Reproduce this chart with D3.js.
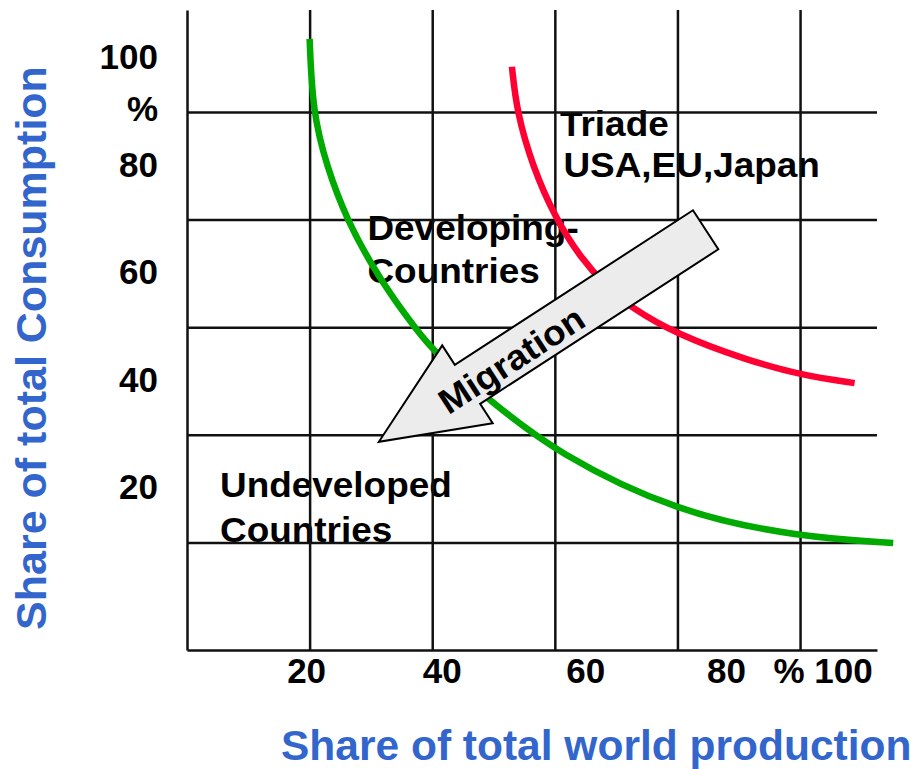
<!DOCTYPE html>
<html>
<head>
<meta charset="utf-8">
<script src="https://cdn.jsdelivr.net/npm/d3@7"></script>
<style>
  html, body { margin: 0; padding: 0; background: #fff; }
  svg { display: block; }
  text { font-family: "Liberation Sans", Arial, sans-serif; font-weight: bold; }
</style>
</head>
<body>
<div id="chart"></div>
<script>
// ── Data (percent shares) ───────────────────────────────────
const X_TICKS       = [20, 40, 60, 80, 100];
const X_TICK_LABELS = ["20", "40", "60", "80", "% 100"];
const Y_TICKS       = [20, 40, 60, 80, 100];
const Y_TICK_LABELS = ["20", "40", "60", "80", "100"];

// developing countries curve (green)
const GREEN_X = [20.0, 20.5, 22.8, 26.1, 30.3, 33.8, 37.2, 40.6, 49.9, 60.3, 80.0, 99.9, 115.2];
const GREEN_Y = [113.6, 100.0, 89.8, 79.9, 71.2, 65.1, 59.9, 55.0, 45.9, 36.6, 25.5, 21.0, 19.9];

// triade curve (red)
const RED_X = [53.0, 53.8, 56.4, 60.0, 64.1, 68.5, 72.2, 80.0, 91.3, 100.1, 108.9];
const RED_Y = [108.4, 100.0, 89.8, 80.5, 73.0, 67.5, 63.8, 58.6, 53.9, 51.1, 49.6];

// migration arrow: tail -> tip
const ARROW_FROM = [84.6, 78.1];
const ARROW_TO   = [31.3, 38.7];

const TITLE_X = "Share of total world production";
const TITLE_Y = "Share of total Consumption";

// ── Layout ───────────────────────────────────────────────────
const W = 914, H = 769;
const BLUE = "#3366cc";
const X_LABEL_DX = [-3, 10, 31, 49, 23];
const STRETCH = 1.055;   // reference text is slightly wide

const svg = d3.select("#chart").append("svg")
  .attr("width", W).attr("height", H);

const x = d3.scaleLinear().domain([0, 112.55]).range([187, 877]);
const y = d3.scaleLinear().domain([0, 118.95]).range([650, 10]);

// annotation texts (anchored in data units)
const NOTES = [
  { lines: ["Triade", "USA,EU,Japan"], at: [[60.84, 95.6], [61.4, 88.0]] },
  { lines: ["Developing-", "Countries"], at: [[29.43, 76.2], [29.43, 68.2]] },
  { lines: ["Undeveloped", "Countries"], at: [[5.38, 28.4], [5.38, 20.1]] }
];

NOTES.forEach(n => {
  n.lines.forEach((t, i) => {
    svg.append("text")
      .attr("transform", `translate(${x(n.at[i][0])},${y(n.at[i][1])}) scale(${STRETCH},1)`)
      .attr("font-size", 35).attr("fill", "#000")
      .text(t);
  });
});

// ── Grid / axes ──────────────────────────────────────────────
const gx = svg.append("g").attr("transform", `translate(0,${y(0)})`)
  .call(d3.axisBottom(x).tickValues(X_TICKS).tickFormat("")
    .tickSize(-(y(0) - y(118.95))).tickSizeOuter(0));
const gy = svg.append("g").attr("transform", `translate(${x(0)},0)`)
  .call(d3.axisLeft(y).tickValues(Y_TICKS).tickFormat("")
    .tickSize(-(x(112.55) - x(0))).tickSizeOuter(0));

[gx, gy].forEach(g => {
  g.selectAll("line").attr("stroke", "#111").attr("stroke-width", 2.5);
  g.select(".domain").attr("stroke", "#111").attr("stroke-width", 2.5);
});

// tick labels
svg.append("g").selectAll("text")
  .data(Y_TICKS)
  .join("text")
  .attr("x", 158).attr("y", d => y(d) - 43)
  .attr("text-anchor", "end").attr("font-size", 35)
  .text((d, i) => Y_TICK_LABELS[i]);

svg.append("text")
  .attr("x", 158).attr("y", y(100) + 9)
  .attr("text-anchor", "end").attr("font-size", 35)
  .text("%");

svg.append("g").selectAll("text")
  .data(X_TICKS)
  .join("text")
  .attr("x", (d, i) => x(d) + X_LABEL_DX[i]).attr("y", 683)
  .attr("text-anchor", "middle").attr("font-size", 35)
  .text((d, i) => X_TICK_LABELS[i]);

// ── Curves ───────────────────────────────────────────────────
const line = d3.line()
  .x(d => x(d[0])).y(d => y(d[1]))
  .curve(d3.curveBasis);

svg.append("path")
  .datum(GREEN_X.map((v, i) => [v, GREEN_Y[i]]))
  .attr("d", line).attr("fill", "none")
  .attr("stroke", "#00aa00").attr("stroke-width", 6.5);

svg.append("path")
  .datum(RED_X.map((v, i) => [v, RED_Y[i]]))
  .attr("d", line).attr("fill", "none")
  .attr("stroke", "#ff0033").attr("stroke-width", 6.5);

// ── Migration arrow ──────────────────────────────────────────
const tail = [x(ARROW_FROM[0]), y(ARROW_FROM[1])];
const tip  = [x(ARROW_TO[0]),   y(ARROW_TO[1])];
const len  = Math.hypot(tip[0] - tail[0], tip[1] - tail[1]);
const u = [(tip[0] - tail[0]) / len, (tip[1] - tail[1]) / len];
const nrm = [-u[1], u[0]];
const shaftHalf = 23.25, headHalf = 46.35, headLen = 105.6;
const base = [tip[0] - u[0] * headLen, tip[1] - u[1] * headLen];
const P = (p, k) => [p[0] + nrm[0] * k, p[1] + nrm[1] * k];

const arrowPts = [
  P(tail, shaftHalf), P(base, shaftHalf), P(base, headHalf), tip,
  P(base, -headHalf), P(base, -shaftHalf), P(tail, -shaftHalf)
];
svg.append("polygon")
  .attr("points", arrowPts.map(p => p.join(",")).join(" "))
  .attr("fill", "#ececec").attr("stroke", "#000").attr("stroke-width", 2)
  .attr("stroke-linejoin", "miter");

const ang = Math.atan2(tail[1] - tip[1], tail[0] - tip[0]) * 180 / Math.PI;
const mid = [tail[0] + u[0] * len * 0.6 + nrm[0] * -3, tail[1] + u[1] * len * 0.6 + nrm[1] * -3];
svg.append("text")
  .attr("transform", `translate(${mid[0]},${mid[1]}) rotate(${ang}) scale(${STRETCH},1)`)
  .attr("text-anchor", "middle").attr("dy", "0.36em")
  .attr("font-size", 35).attr("fill", "#000")
  .text("Migration");

// ── Axis titles ──────────────────────────────────────────────
svg.append("text")
  .attr("x", 281).attr("y", 760)
  .attr("font-size", 42.5).attr("fill", BLUE)
  .text(TITLE_X);

svg.append("text")
  .attr("transform", "translate(46,348) rotate(-90)")
  .attr("text-anchor", "middle")
  .attr("font-size", 43).attr("fill", BLUE)
  .text(TITLE_Y);
</script>
</body>
</html>
